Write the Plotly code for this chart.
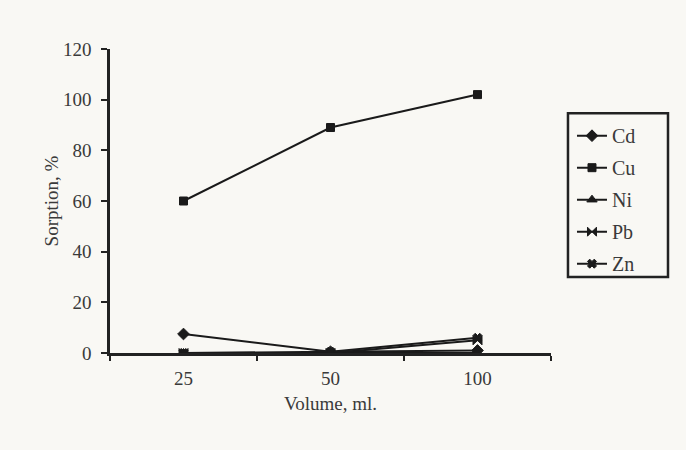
import plotly.graph_objects as go

volumes = ["25", "50", "100"]
cd = [7.5, 0.5, 1.0]
cu = [60, 89, 102]
ni = [0, 0, 0]
pb = [0, 0, 5]
zn = [0, 0.5, 6]

series = [
    ("Cd", cd, "diamond", 9),
    ("Cu", cu, "square", 8),
    ("Ni", ni, "triangle-up", 9),
    ("Pb", pb, "bowtie", 9),
    ("Zn", zn, "x", 8),
]

FONT = "Liberation Serif"
TXT = "#3a3a3a"
BG = "#f9f8f4"
fig = go.Figure()
for name, vals, sym, sz in series:
    fig.add_trace(go.Scatter(
        x=volumes, y=vals, name=name, mode="lines+markers",
        legendgroup=name,
        line=dict(color="#1a1a1a", width=2),
        marker=dict(symbol=sym, size=sz, color="#1a1a1a",
                    line=dict(color="#1a1a1a", width=1)),
    ))

# legend frame (wider than plotly's auto-sized legend box)
fig.add_shape(type="rect", xref="paper", yref="paper",
              x0=1.0385, x1=1.2653, y0=0.25, y1=0.789,
              line=dict(color="#222", width=2.5), fillcolor="rgba(0,0,0,0)")

fig.update_layout(
    width=686, height=450,
    margin=dict(l=110, r=135, t=49, b=97),
    paper_bgcolor=BG, plot_bgcolor="rgba(0,0,0,0)",
    font=dict(family=FONT, size=19, color=TXT),
    showlegend=True,
    legend=dict(
        x=1.0476, y=0.779, xanchor="left", yanchor="top",
        borderwidth=0, bgcolor="rgba(0,0,0,0)",
        font=dict(family=FONT, size=20, color=TXT),
        tracegroupgap=3, itemwidth=30,
    ),
    xaxis=dict(
        type="category", range=[-0.5, 2.5],
        showline=True, linecolor="#222", linewidth=2.5,
        ticks="outside", tickson="boundaries", ticklen=5, tickcolor="#222", tickwidth=2,
        showgrid=False, zeroline=False, ticklabelstandoff=6,
        tickfont=dict(family=FONT, size=19, color=TXT),
        title=dict(text="Volume, ml.", font=dict(family=FONT, size=19, color=TXT), standoff=10),
    ),
    yaxis=dict(
        range=[0, 120], tickvals=[0, 20, 40, 60, 80, 100, 120],
        showline=True, linecolor="#222", linewidth=2.5,
        ticks="outside", ticklen=6, tickcolor="#222", tickwidth=2,
        showgrid=False, zeroline=False, ticklabelstandoff=6,
        tickfont=dict(family=FONT, size=19, color=TXT),
        title=dict(text="Sorption, %", font=dict(family=FONT, size=19, color=TXT), standoff=0),
    ),
)

fig.write_html(
    "out.html",
    config={"displayModeBar": False},
    post_script="document.body.style.margin='0';document.body.style.background='" + BG + "';",
)
